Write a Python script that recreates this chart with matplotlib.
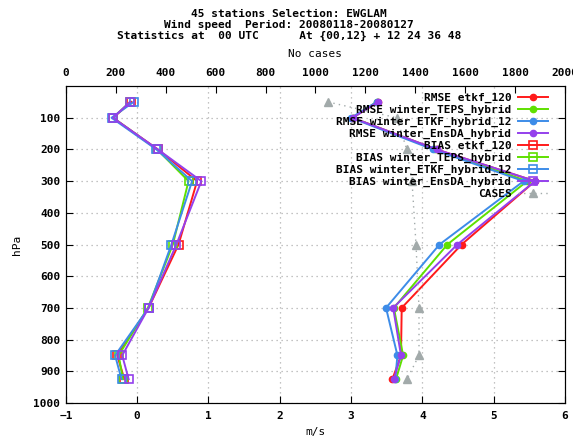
import numpy as np
import matplotlib
matplotlib.use("Agg")
import matplotlib.pyplot as plt

plt.rcParams['font.family'] = 'DejaVu Sans Mono'
plt.rcParams['font.weight'] = 'bold'
plt.rcParams['font.size'] = 8

levels = [50, 100, 200, 300, 500, 700, 850, 925]

rmse_etkf_120 = [3.38, 3.02, 4.20, 5.58, 4.55, 3.71, 3.70, 3.58]
rmse_teps = [3.36, 3.02, 4.18, 5.47, 4.35, 3.60, 3.73, 3.63]
rmse_etkf_12 = [3.36, 3.00, 4.15, 5.42, 4.24, 3.49, 3.65, 3.62]
rmse_ensda = [3.38, 3.02, 4.20, 5.58, 4.49, 3.59, 3.70, 3.60]

bias_etkf_120 = [-0.08, -0.34, 0.29, 0.84, 0.58, 0.16, -0.28, -0.18]
bias_teps = [-0.10, -0.34, 0.28, 0.72, 0.50, 0.15, -0.26, -0.20]
bias_etkf_12 = [-0.05, -0.36, 0.27, 0.77, 0.48, 0.16, -0.31, -0.22]
bias_ensda = [-0.10, -0.34, 0.29, 0.90, 0.55, 0.16, -0.21, -0.12]

cases = [1050, 1326, 1366, 1387, 1403, 1415, 1415, 1367]

names = ["etkf_120", "winter_TEPS_hybrid", "winter_ETKF_hybrid_12", "winter_EnsDA_hybrid"]
colors = ["#ff1a1a", "#5fe000", "#3d8ce8", "#9440ec"]
rmse = [rmse_etkf_120, rmse_teps, rmse_etkf_12, rmse_ensda]
bias = [bias_etkf_120, bias_teps, bias_etkf_12, bias_ensda]

fig = plt.figure(figsize=(5.73, 4.37), dpi=100)
ax = fig.add_axes([0.115, 0.078, 0.871, 0.725])

handles = []
for n, c, r in zip(names, colors, rmse):
    h, = ax.plot(r, levels, color=c, lw=1.4, marker="o", ms=4.5, label="RMSE " + n)
    handles.append(h)
for n, c, b in zip(names, colors, bias):
    h, = ax.plot(b, levels, color=c, lw=1.4, marker="s", ms=5.5, mfc="none",
                 mew=1.2, label="BIAS " + n)
    handles.append(h)

ax.set_xlim(-1, 6)
ax.set_ylim(1000, 0)
ax.set_xticks(range(-1, 7))
ax.set_yticks(range(100, 1001, 100))
ax.grid(True, color="#b0b0b0", ls=(0, (1, 3)), lw=0.9)
ax.tick_params(direction="in", right=True, length=5, width=0.8, pad=6)
ax.tick_params(axis="y", pad=4)
ax.set_xlabel("m/s", labelpad=4)
ax.set_ylabel("hPa", labelpad=8)
for s in ax.spines.values():
    s.set_color("#333333")

ax2 = ax.twiny()
h, = ax2.plot(cases, levels, color="#a2aaaa", ls=(0, (1, 3)), lw=1,
              marker="^", ms=6, label="CASES")
handles.append(h)
ax2.set_xlim(0, 2000)
ax2.set_xticks(range(0, 2001, 200))
ax2.tick_params(direction="in", length=5, width=0.8, pad=6)
ax2.set_xlabel("No cases", labelpad=8)
ax2.set_ylim(1000, 0)

ax2.legend(handles=handles, loc="upper right", bbox_to_anchor=(0.975, 0.993),
           markerfirst=False, frameon=False, handlelength=2.7,
           labelspacing=0.16, handletextpad=0.6, borderaxespad=0)

fig.text(0.505, 0.968, "45 stations Selection: EWGLAM", ha="center", va="center")
fig.text(0.505, 0.943, "Wind speed  Period: 20080118-20080127", ha="center", va="center")
fig.text(0.505, 0.918, "Statistics at  00 UTC      At {00,12} + 12 24 36 48",
         ha="center", va="center")

fig.savefig("out.png", dpi=100)
